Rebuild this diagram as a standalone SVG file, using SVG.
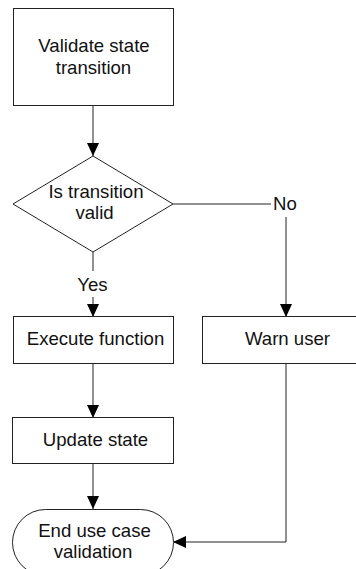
<svg xmlns="http://www.w3.org/2000/svg" width="356" height="569" viewBox="0 0 356 569">
<style>
.box{fill:#fff;stroke:#222;stroke-width:1}
.t{font-family:"Liberation Sans",Arial,sans-serif;font-size:18.6px;fill:#111;text-anchor:middle}
.c{fill:none;stroke:#222;stroke-width:1}
.lbg{fill:#fff}
</style>
<defs>
<marker id="ah" markerUnits="userSpaceOnUse" markerWidth="13" markerHeight="12" refX="13" refY="6" orient="auto">
<path d="M0,0 L13,6 L0,12 z" fill="#000"/>
</marker>
</defs>
<rect width="356" height="569" fill="#fff"/>
<g id="connectors">
<path class="c" d="M93,105 V156" marker-end="url(#ah)"/>
<path class="c" d="M93,252 V317" marker-end="url(#ah)"/>
<path class="c" d="M173,204 H286 V317" marker-end="url(#ah)"/>
<path class="c" d="M93,364 V418" marker-end="url(#ah)"/>
<path class="c" d="M93,463 V509" marker-end="url(#ah)"/>
<path class="c" d="M286,363 V542 H173" marker-end="url(#ah)"/>
<rect class="lbg" x="76" y="271" width="34" height="26"/>
<text class="t" x="92.5" y="290.5">Yes</text>
<rect class="lbg" x="271" y="194" width="29" height="23"/>
<text class="t" x="285" y="210">No</text>
</g>
<g id="validate">
<rect class="box" x="13.5" y="8.5" width="160" height="97"/>
<text class="t" x="94" y="52">Validate state</text>
<text class="t" x="93.5" y="74">transition</text>
</g>
<g id="decision">
<path class="box" d="M93,156 L173,204 L93,252 L13,204 Z"/>
<text class="t" x="96" y="198">Is transition</text>
<text class="t" x="94.5" y="219">valid</text>
</g>
<g id="execute">
<rect class="box" x="13.5" y="316.5" width="160" height="47"/>
<text class="t" x="95.5" y="345">Execute function</text>
</g>
<g id="warn">
<rect class="box" x="202.5" y="316.5" width="167" height="47"/>
<text class="t" x="287.5" y="345">Warn user</text>
</g>
<g id="update">
<rect class="box" x="12.5" y="417.5" width="161" height="46"/>
<text class="t" x="95.5" y="446">Update state</text>
</g>
<g id="end">
<rect class="box" x="12.5" y="509.5" width="161" height="66" rx="33" ry="33"/>
<text class="t" x="94.5" y="537">End use case</text>
<text class="t" x="93" y="558">validation</text>
</g>
</svg>
